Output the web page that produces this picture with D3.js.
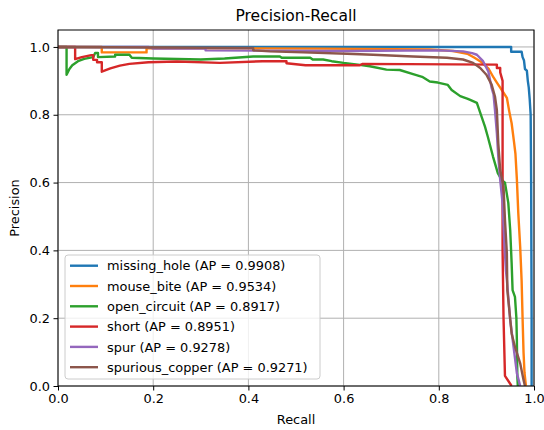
<!DOCTYPE html>
<html><head><meta charset="utf-8">
<script src="https://cdn.jsdelivr.net/npm/d3@7"></script>
<style>body{margin:0;background:#fff}svg{display:block;font-family:"DejaVu Sans",sans-serif}</style>
</head><body><svg id="c" width="544" height="430"></svg>
<script>
const classes = ["missing_hole","mouse_bite","open_circuit","short","spur","spurious_copper"];
const apValues = [0.9908,0.9534,0.8917,0.8951,0.9278,0.9271];
const colors = ["#1f77b4","#ff7f0e","#2ca02c","#d62728","#9467bd","#8c564b"];
const tickValues = [0,0.2,0.4,0.6,0.8,1.0];

const missingHole = [[0,1],[0.952,1],[0.952,0.986],[0.974,0.986],[0.976,0.97],[0.979,0.96],[0.981,0.935],[0.985,0.93],[0.987,0.9],[0.989,0.88],[0.991,0.845],[0.993,0.8],[0.994,0.6],[0.995,0.2],[0.995,0]];
const mouseBite = [[0,1],[0.092,1],[0.092,0.984],[0.186,0.984],[0.186,0.997],[0.55,0.995],[0.78,0.993],[0.83,0.988],[0.86,0.98],[0.875,0.968],[0.89,0.955],[0.905,0.935],[0.915,0.91],[0.922,0.895],[0.929,0.88],[0.936,0.865],[0.943,0.85],[0.948,0.81],[0.953,0.775],[0.958,0.72],[0.961,0.685],[0.964,0.61],[0.967,0.51],[0.971,0.41],[0.974,0.31],[0.976,0.2],[0.978,0.1],[0.98,0.04],[0.983,0]];
const openCircuit = [[0,1],[0.018,1],[0.018,0.918],[0.024,0.935],[0.03,0.946],[0.042,0.958],[0.055,0.965],[0.074,0.97],[0.078,0.982],[0.084,0.982],[0.084,0.97],[0.12,0.972],[0.12,0.977],[0.15,0.977],[0.155,0.968],[0.2,0.966],[0.3,0.963],[0.35,0.966],[0.41,0.972],[0.466,0.972],[0.47,0.968],[0.53,0.968],[0.535,0.963],[0.557,0.963],[0.575,0.958],[0.6,0.953],[0.63,0.948],[0.655,0.943],[0.69,0.933],[0.718,0.932],[0.746,0.92],[0.765,0.912],[0.781,0.898],[0.798,0.895],[0.819,0.888],[0.827,0.873],[0.845,0.855],[0.861,0.847],[0.866,0.844],[0.88,0.835],[0.89,0.794],[0.897,0.765],[0.903,0.735],[0.914,0.676],[0.924,0.628],[0.932,0.608],[0.939,0.6],[0.946,0.54],[0.95,0.46],[0.953,0.363],[0.955,0.283],[0.96,0.263],[0.963,0.2],[0.964,0.136],[0.965,0.027],[0.966,0]];
const shortCurve = [[0,1],[0.036,1],[0.036,0.964],[0.05,0.97],[0.07,0.976],[0.074,0.976],[0.074,0.962],[0.082,0.962],[0.082,0.955],[0.092,0.955],[0.092,0.927],[0.11,0.937],[0.13,0.945],[0.15,0.95],[0.19,0.955],[0.25,0.957],[0.34,0.953],[0.43,0.958],[0.48,0.958],[0.48,0.952],[0.52,0.946],[0.634,0.946],[0.64,0.95],[0.922,0.948],[0.922,0.938],[0.929,0.938],[0.929,0.925],[0.934,0.9],[0.934,0.4],[0.936,0.2],[0.939,0.03],[0.953,0]];
const spur = [[0,1],[0.19,1],[0.2,0.995],[0.31,0.995],[0.31,0.99],[0.6,0.988],[0.8,0.99],[0.851,0.987],[0.87,0.982],[0.88,0.977],[0.893,0.958],[0.904,0.928],[0.911,0.879],[0.915,0.86],[0.918,0.814],[0.922,0.745],[0.925,0.676],[0.929,0.608],[0.934,0.539],[0.937,0.44],[0.941,0.342],[0.943,0.313],[0.95,0.195],[0.957,0.116],[0.964,0.038],[0.971,0]];
const spuriousCopper = [[0,1],[0.41,0.997],[0.41,0.99],[0.445,0.987],[0.515,0.984],[0.607,0.98],[0.662,0.977],[0.746,0.972],[0.817,0.968],[0.851,0.963],[0.872,0.953],[0.887,0.938],[0.9,0.918],[0.911,0.889],[0.918,0.854],[0.922,0.814],[0.925,0.716],[0.929,0.637],[0.936,0.588],[0.939,0.49],[0.943,0.392],[0.944,0.283],[0.946,0.254],[0.953,0.155],[0.96,0.116],[0.971,0.067],[0.978,0.018],[0.981,0]];
const curves = [missingHole, mouseBite, openCircuit, shortCurve, spur, spuriousCopper];

const svg = d3.select("#c");
const L=58, R=534, T=30, B=386;
const x = d3.scaleLinear().domain([0,1]).range([L,R]);
const y = d3.scaleLinear().domain([0,1.05]).range([B,T]);
const fs = 12.9;

// grid
const g = svg.append("g");
g.selectAll(".gx").data(tickValues).enter().append("line")
  .attr("x1",d=>x(d)).attr("x2",d=>x(d)).attr("y1",T).attr("y2",B)
  .attr("stroke","#b0b0b0").attr("stroke-width",1);
g.selectAll(".gy").data(tickValues).enter().append("line")
  .attr("y1",d=>y(d)).attr("y2",d=>y(d)).attr("x1",L).attr("x2",R)
  .attr("stroke","#b0b0b0").attr("stroke-width",1);

// curves
const line = d3.line().x(d=>x(d[0])).y(d=>y(d[1]));
const clip = svg.append("clipPath").attr("id","clp").append("rect")
  .attr("x",L).attr("y",T).attr("width",R-L).attr("height",B-T);
svg.append("g").attr("clip-path","url(#clp)").selectAll("path").data(curves).enter().append("path")
  .attr("d",line).attr("fill","none").attr("stroke",(d,i)=>colors[i])
  .attr("stroke-width",2.4).attr("stroke-linejoin","round");

// axes
const ax = svg.append("g").attr("transform",`translate(0,${B})`)
  .call(d3.axisBottom(x).tickValues(tickValues).tickFormat(d3.format(".1f")).tickSize(4.5).tickPadding(3.5).tickSizeOuter(0));
const ay = svg.append("g").attr("transform",`translate(${L},0)`)
  .call(d3.axisLeft(y).tickValues(tickValues).tickFormat(d3.format(".1f")).tickSize(4.5).tickPadding(3.5).tickSizeOuter(0));
[ax,ay].forEach(a=>{a.select(".domain").remove();a.selectAll("text").attr("font-size",fs).attr("fill","#000").attr("font-family","DejaVu Sans");a.selectAll("line").attr("stroke","#000");});
svg.append("rect").attr("x",L).attr("y",T).attr("width",R-L).attr("height",B-T)
  .attr("fill","none").attr("stroke","#000").attr("stroke-width",1);

// labels
svg.append("text").attr("x",(L+R)/2).attr("y",21).attr("text-anchor","middle").attr("font-size",15.5).text("Precision-Recall");
svg.append("text").attr("x",(L+R)/2).attr("y",424).attr("text-anchor","middle").attr("font-size",fs).text("Recall");
svg.append("text").attr("transform",`translate(19,${(T+B)/2}) rotate(-90)`).attr("text-anchor","middle").attr("font-size",fs).text("Precision");

// legend
const lg = svg.append("g");
lg.append("rect").attr("x",65).attr("y",255).attr("width",255).attr("height",124).attr("rx",3)
  .attr("fill","#fff").attr("fill-opacity",0.8).attr("stroke","#cccccc").attr("stroke-width",1);
classes.forEach((c,i)=>{
  const yy = 265.7 + i*20.3;
  lg.append("line").attr("x1",70).attr("x2",98).attr("y1",yy).attr("y2",yy).attr("stroke",colors[i]).attr("stroke-width",2.4);
  lg.append("text").attr("x",107).attr("y",yy).attr("dy","0.36em").attr("font-size",fs)
    .text(`${c} (AP = ${apValues[i].toFixed(4)})`);
});
</script></body></html>
